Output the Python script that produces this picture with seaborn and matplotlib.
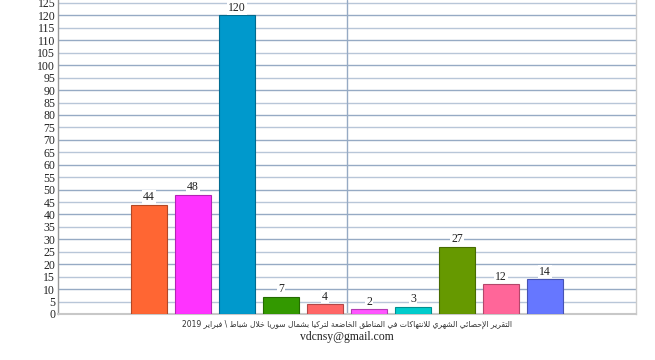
import matplotlib
matplotlib.use("Agg")
import matplotlib.pyplot as plt
import seaborn as sns
import pandas as pd
import numpy as np

categories = ["c1", "c2", "c3", "c4", "c5", "c6", "c7", "c8", "c9", "c10"]
values = [44, 48, 120, 7, 4, 2, 3, 27, 12, 14]
colors = ["#FF6633", "#FF33FF", "#0099CC", "#339900", "#FF6666",
          "#FF55FF", "#00CCCC", "#669900", "#FF6699", "#6677FF"]
yticks = list(range(0, 130, 5))
caption = "التقرير الإحصائي الشهري للانتهاكات في المناطق الخاضعة لتركيا بشمال سوريا خلال شباط \\ فبراير 2019"
email = "vdcnsy@gmail.com"

# --- minimal Arabic shaping for display ---
_forms = {
    '\u0621': (0xFE80, 1), '\u0622': (0xFE81, 2), '\u0623': (0xFE83, 2),
    '\u0624': (0xFE85, 2), '\u0625': (0xFE87, 2), '\u0626': (0xFE89, 4),
    '\u0627': (0xFE8D, 2), '\u0628': (0xFE8F, 4), '\u0629': (0xFE93, 2),
    '\u062A': (0xFE95, 4), '\u062B': (0xFE99, 4), '\u062C': (0xFE9D, 4),
    '\u062D': (0xFEA1, 4), '\u062E': (0xFEA5, 4), '\u062F': (0xFEA9, 2),
    '\u0630': (0xFEAB, 2), '\u0631': (0xFEAD, 2), '\u0632': (0xFEAF, 2),
    '\u0633': (0xFEB1, 4), '\u0634': (0xFEB5, 4), '\u0635': (0xFEB9, 4),
    '\u0636': (0xFEBD, 4), '\u0637': (0xFEC1, 4), '\u0638': (0xFEC5, 4),
    '\u0639': (0xFEC9, 4), '\u063A': (0xFECD, 4), '\u0641': (0xFED1, 4),
    '\u0642': (0xFED5, 4), '\u0643': (0xFED9, 4), '\u0644': (0xFEDD, 4),
    '\u0645': (0xFEE1, 4), '\u0646': (0xFEE5, 4), '\u0647': (0xFEE9, 4),
    '\u0648': (0xFEED, 2), '\u0649': (0xFEEF, 2), '\u064A': (0xFEF1, 4),
}
_lamalef = {'\u0627': 0xFEFB, '\u0623': 0xFEF7, '\u0625': 0xFEF9, '\u0622': 0xFEF5}


def shape_arabic(text):
    chars = list(text)
    units = []
    i = 0
    while i < len(chars):
        c = chars[i]
        if c == '\u0644' and i + 1 < len(chars) and chars[i + 1] in _lamalef:
            units.append(('LA', chars[i + 1]))
            i += 2
        else:
            units.append(('C', c))
            i += 1

    def jtype(u):
        if u[0] == 'LA':
            return 2
        return _forms.get(u[1], (0, 0))[1]

    out = []
    for k, u in enumerate(units):
        prev_join = k > 0 and jtype(units[k - 1]) == 4 and jtype(u) > 0
        t = jtype(u)
        next_join = t == 4 and k + 1 < len(units) and jtype(units[k + 1]) > 1
        if u[0] == 'LA':
            base = _lamalef[u[1]]
            out.append(chr(base + (1 if prev_join else 0)))
            continue
        if t == 0:
            out.append(u[1])
            continue
        base = _forms[u[1]][0]
        if t == 1:
            off = 0
        elif t == 2:
            off = 1 if prev_join else 0
        else:
            if prev_join and next_join:
                off = 3
            elif prev_join:
                off = 1
            elif next_join:
                off = 2
            else:
                off = 0
        out.append(chr(base + off))
    vis = ''.join(out)[::-1]
    res, run = [], []
    for ch in vis:
        if ch.isdigit():
            run.append(ch)
        else:
            if run:
                res.extend(run[::-1]); run = []
            res.append(ch)
    if run:
        res.extend(run[::-1])
    return ''.join(res)


sns.set_theme(style="white")
plt.rcParams['font.family'] = ['Liberation Serif', 'DejaVu Sans']

df = pd.DataFrame({"cat": categories, "val": values})

fig = plt.figure(figsize=(6.55, 3.6), dpi=100)
ax = fig.add_axes([58 / 655, 46 / 360, 578 / 655, 314 / 360])

sns.barplot(data=df, x="cat", y="val", hue="cat", palette=colors,
            dodge=False, legend=False, width=0.82, ax=ax, zorder=3,
            linewidth=0.8, edgecolor="#555555", saturation=1)
for p, c in zip(ax.patches, colors):
    p.set_edgecolor(tuple(np.array(matplotlib.colors.to_rgb(c)) * 0.7))

ax.set_xlim(-2.07, 11.07)
ax.set_ylim(0, 126.2)
ax.set_yticks(yticks)
ax.set_yticklabels([str(t) for t in yticks], fontsize=8.5, color="#222222")
ax.tick_params(axis='y', length=0, pad=2)
ax.set_xticks([])
ax.set_xlabel("")
ax.set_ylabel("")

for t in yticks[1:]:
    ax.axhline(t, color="#B8C6D8" if t % 10 else "#96AAC4", lw=1, zorder=1)
ax.axvline(4.5, color="#96AAC4", lw=1, zorder=1)

ax.spines["top"].set_visible(False)
ax.spines["left"].set_color("#999999")
ax.spines["left"].set_linewidth(1)
ax.spines["right"].set_color("#CCCCCC")
ax.spines["right"].set_linewidth(1)
ax.spines["bottom"].set_color("#C8C8C8")
ax.spines["bottom"].set_linewidth(1.5)

for i, v in enumerate(values):
    ax.text(i, v + 0.6, str(v), ha="center", va="bottom", fontsize=8.5,
            color="#222222", zorder=5,
            bbox=dict(facecolor="white", edgecolor="none", pad=0.5))

fig.text(346.5 / 655, 1 - 324 / 360, shape_arabic(caption), ha="center",
         va="center", fontsize=5.5, color="#333333",
         family=['DejaVu Sans', 'Liberation Serif'])
fig.text(346.5 / 655, 1 - 337 / 360, email, ha="center", va="center",
         fontsize=8.5, color="#222222")

fig.savefig("out.png", dpi=100, facecolor="white")
